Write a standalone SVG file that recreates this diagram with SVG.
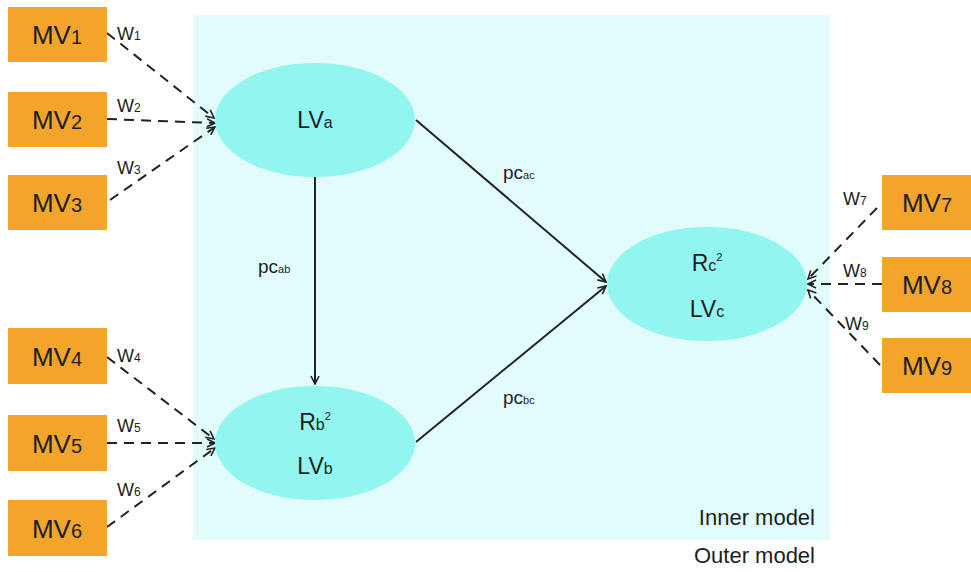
<svg xmlns="http://www.w3.org/2000/svg" width="971" height="572" viewBox="0 0 971 572">
<style>
.mv rect{fill:#F2A52A}
.t{font-family:"Liberation Sans",Arial,sans-serif;fill:#1e1e1e}
.mvt{font-size:26px}
.sub{font-size:20px}
.w{font-size:18px}
.ws{font-size:12px}
.lv ellipse{fill:#90F6EF}
.lvt{font-size:23px}
.lvs{font-size:16px}
.sup{font-size:11px}
.pc{font-size:19px}
.pcs{font-size:11px}
.dash{stroke:#222;stroke-width:2;stroke-dasharray:10,7;fill:none}
.solid{stroke:#222;stroke-width:2;fill:none}
.lbl{font-size:22px}
</style>
<defs>
<marker id="ah" markerWidth="10" markerHeight="10" refX="9" refY="5" orient="auto" markerUnits="userSpaceOnUse">
<path d="M1,1 L9,5 L1,9" fill="none" stroke="#222" stroke-width="1.6"/>
</marker>
</defs>
<rect width="971" height="572" fill="#ffffff"/>
<rect id="inner-panel" x="193" y="15" width="637" height="525" fill="#E2FCFB"/>

<g id="connectors">
<line class="solid" x1="315" y1="177" x2="315" y2="384" marker-end="url(#ah)"/>
<line class="solid" x1="416" y1="120" x2="606" y2="282" marker-end="url(#ah)"/>
<line class="solid" x1="416" y1="442" x2="606" y2="286" marker-end="url(#ah)"/>
<line class="dash" x1="107" y1="33" x2="214" y2="118" marker-end="url(#ah)"/>
<line class="dash" x1="107" y1="119" x2="215" y2="123" marker-end="url(#ah)"/>
<line class="dash" x1="110" y1="200" x2="215" y2="127" marker-end="url(#ah)"/>
<line class="dash" x1="107" y1="357" x2="214" y2="439" marker-end="url(#ah)"/>
<line class="dash" x1="107" y1="443" x2="215" y2="443" marker-end="url(#ah)"/>
<line class="dash" x1="107" y1="527" x2="215" y2="448" marker-end="url(#ah)"/>
<line class="dash" x1="877" y1="208" x2="808" y2="279" marker-end="url(#ah)"/>
<line class="dash" x1="882" y1="284" x2="808" y2="284" marker-end="url(#ah)"/>
<line class="dash" x1="880" y1="365" x2="808" y2="290" marker-end="url(#ah)"/>
<text class="t pc" x="503" y="179">pc<tspan class="pcs">ac</tspan></text>
<text class="t pc" x="258" y="273">pc<tspan class="pcs">ab</tspan></text>
<text class="t pc" x="503" y="404">pc<tspan class="pcs">bc</tspan></text>
<text class="t w" x="117" y="40">W<tspan class="ws">1</tspan></text>
<text class="t w" x="117" y="112">W<tspan class="ws">2</tspan></text>
<text class="t w" x="117" y="174">W<tspan class="ws">3</tspan></text>
<text class="t w" x="117" y="362">W<tspan class="ws">4</tspan></text>
<text class="t w" x="117" y="432">W<tspan class="ws">5</tspan></text>
<text class="t w" x="117" y="496">W<tspan class="ws">6</tspan></text>
<text class="t w" x="843" y="205">W<tspan class="ws">7</tspan></text>
<text class="t w" x="843" y="277">W<tspan class="ws">8</tspan></text>
<text class="t w" x="845" y="330">W<tspan class="ws">9</tspan></text>
</g>

<g id="LVa" class="lv">
<ellipse cx="315" cy="120" rx="100" ry="57"/>
<text class="t lvt" x="315" y="128" text-anchor="middle">LV<tspan class="lvs">a</tspan></text>
</g>
<g id="LVb" class="lv">
<ellipse cx="315" cy="443" rx="100" ry="57"/>
<text class="t lvt" x="315" y="430" text-anchor="middle">R<tspan class="lvs">b</tspan><tspan class="sup" dy="-10">2</tspan></text>
<text class="t lvt" x="315" y="474" text-anchor="middle">LV<tspan class="lvs">b</tspan></text>
</g>
<g id="LVc" class="lv">
<ellipse cx="707" cy="284" rx="100" ry="57"/>
<text class="t lvt" x="707" y="271" text-anchor="middle">R<tspan class="lvs">c</tspan><tspan class="sup" dy="-10">2</tspan></text>
<text class="t lvt" x="707" y="317" text-anchor="middle">LV<tspan class="lvs">c</tspan></text>
</g>

<g id="MV1" class="mv"><rect x="8" y="7" width="99" height="55"/><text class="t mvt" x="57" y="44" text-anchor="middle">MV<tspan class="sub">1</tspan></text></g>
<g id="MV2" class="mv"><rect x="8" y="92" width="99" height="55"/><text class="t mvt" x="57" y="129" text-anchor="middle">MV<tspan class="sub">2</tspan></text></g>
<g id="MV3" class="mv"><rect x="8" y="175" width="99" height="55"/><text class="t mvt" x="57" y="212" text-anchor="middle">MV<tspan class="sub">3</tspan></text></g>
<g id="MV4" class="mv"><rect x="8" y="328" width="99" height="56"/><text class="t mvt" x="57" y="366" text-anchor="middle">MV<tspan class="sub">4</tspan></text></g>
<g id="MV5" class="mv"><rect x="8" y="415" width="99" height="56"/><text class="t mvt" x="57" y="453" text-anchor="middle">MV<tspan class="sub">5</tspan></text></g>
<g id="MV6" class="mv"><rect x="8" y="500" width="99" height="56"/><text class="t mvt" x="57" y="538" text-anchor="middle">MV<tspan class="sub">6</tspan></text></g>
<g id="MV7" class="mv"><rect x="882" y="175" width="89" height="55"/><text class="t mvt" x="927" y="212" text-anchor="middle">MV<tspan class="sub">7</tspan></text></g>
<g id="MV8" class="mv"><rect x="882" y="257" width="89" height="55"/><text class="t mvt" x="927" y="294" text-anchor="middle">MV<tspan class="sub">8</tspan></text></g>
<g id="MV9" class="mv"><rect x="882" y="338" width="89" height="55"/><text class="t mvt" x="927" y="375" text-anchor="middle">MV<tspan class="sub">9</tspan></text></g>

<text class="t lbl" x="815" y="525" text-anchor="end">Inner model</text>
<text class="t lbl" x="815" y="563" text-anchor="end">Outer model</text>
</svg>
